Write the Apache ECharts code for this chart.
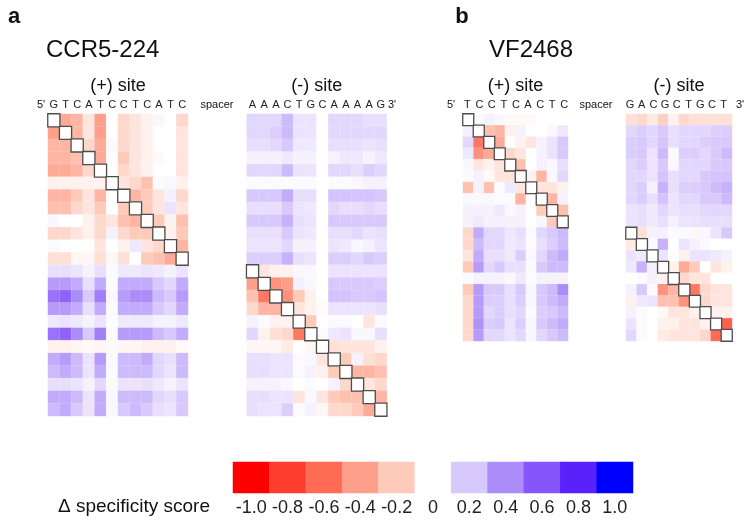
<!DOCTYPE html>
<html>
<head>
<meta charset="utf-8">
<script src="https://cdn.jsdelivr.net/npm/echarts@6/dist/echarts.min.js"></script>
<style>html,body{margin:0;padding:0;background:#fff}#c{width:752px;height:523px}</style>
</head>
<body>
<div id="c"></div>
<script>
// ---------- DATA ----------
const ccr5PlusBases = ['G','T','C','A','T','C','C','T','C','A','T','C'];
const ccr5MinusBases = ['A','A','A','C','T','G','C','A','A','A','A','G'];
const vfPlusBases = ['T','C','C','T','C','A','C','T','C'];
const vfMinusBases = ['G','A','C','G','C','T','G','C','T'];
// pairwise Δ specificity score, CCR5-224 (24 x 24), null = diagonal
const ccr5Matrix = [
 [null,-0.35,-0.3,-0.1,-0.4,0,-0.15,-0.1,-0.05,0.03,0,-0.15, 0.15,0.15,0.15,0.25,0.1,0.1,0,0.15,0.15,0.15,0.12,0.12],
 [-0.4,null,-0.3,-0.1,-0.4,0,-0.15,-0.1,-0.05,0,0,-0.1, 0.15,0.15,0.18,0.25,0.1,0.1,0,0.15,0.15,0.15,0.15,0.15],
 [-0.3,-0.3,null,-0.15,-0.35,-0.02,-0.15,-0.1,-0.05,0,0,-0.1, 0.12,0.12,0.15,0.2,0.08,0.08,0,0.12,0.12,0.12,0.1,0.12],
 [-0.3,-0.3,-0.25,null,-0.35,0,-0.2,-0.1,-0.05,-0.02,0,-0.1, 0.05,0.05,0.05,0.08,0.05,0.05,0,0.05,0.08,0.08,0.05,0.08],
 [-0.35,-0.35,-0.3,-0.15,null,0,-0.15,-0.1,-0.05,0,0,-0.1, 0.15,0.15,0.15,0.25,0.1,0.1,0,0.15,0.15,0.12,0.18,0.15],
 [-0.05,-0.05,-0.05,-0.05,-0.05,null,-0.1,-0.15,-0.25,0.02,0.03,-0.05, 0.02,0.02,0.02,0.02,0.02,0.02,0,0.02,0.02,0.03,0.05,0.05],
 [-0.3,-0.3,-0.2,-0.1,-0.3,0,null,-0.3,-0.2,-0.1,0.05,-0.15, 0.2,0.2,0.2,0.3,0.12,0.12,0,0.22,0.22,0.22,0.22,0.2],
 [-0.25,-0.25,-0.15,-0.1,-0.2,0,-0.2,null,-0.2,-0.1,0.1,-0.1, 0.12,0.12,0.12,0.2,0.1,0.08,0,0.15,0.12,0.12,0.15,0.12],
 [0.03,0,0,-0.05,-0.15,-0.1,-0.25,-0.3,null,-0.2,-0.05,-0.25, 0.2,0.2,0.2,0.28,0.12,0.1,0,0.2,0.2,0.2,0.2,0.2],
 [-0.15,-0.15,-0.1,-0.05,-0.15,0.05,-0.15,-0.2,-0.2,null,-0.05,-0.2, 0.12,0.12,0.12,0.2,0.1,0.08,0,0.12,0.12,0.15,0.1,0.12],
 [0.02,0,0,0,-0.1,0,-0.05,0.08,-0.1,-0.15,null,-0.3, 0.1,0.1,0.1,0.15,0.05,0.05,0,0.1,0.08,0.03,0.05,0.1],
 [-0.12,-0.12,-0.03,-0.03,-0.12,-0.03,-0.12,0,-0.2,-0.25,-0.35,null, 0.18,0.18,0.18,0.28,0.12,0.1,0,0.18,0.18,0.15,0.2,0.18],
 [0.12,0.12,0.1,0.05,0.12,0.02,0.08,0.08,0.1,0.08,0.05,0.1, null,-0.1,-0.05,-0.05,0.03,0.03,0,0.1,0.1,0.1,0.1,0.1],
 [0.35,0.35,0.3,0.12,0.3,0.02,0.3,0.3,0.3,0.2,0.15,0.3, -0.4,null,-0.45,-0.4,0.05,0.03,0,0.2,0.2,0.2,0.2,0.18],
 [0.5,0.55,0.4,0.2,0.45,0.03,0.35,0.4,0.4,0.25,0.2,0.35, -0.25,-0.55,null,-0.45,-0.2,-0.05,0,0.22,0.22,0.2,0.2,0.22],
 [0.35,0.35,0.3,0.12,0.3,0.02,0.3,0.3,0.3,0.2,0.15,0.3, -0.15,-0.3,-0.3,null,-0.1,-0.05,-0.02,0.1,0.1,0.1,0.1,0.12],
 [0.08,0.1,0.08,0.05,0.1,0.01,0.08,0.08,0.08,0.05,0.05,0.08, 0.05,0.02,-0.05,-0.05,null,-0.2,0,0.02,0.02,0,-0.1,0.02],
 [0.5,0.55,0.4,0.2,0.45,0.02,0.35,0.35,0.35,0.25,0.2,0.3, 0.15,-0.05,-0.12,-0.15,-0.55,null,0.02,0.08,0.1,0.03,0.03,0.12],
 [-0.05,-0.05,-0.03,-0.02,-0.03,-0.02,-0.03,-0.03,-0.05,-0.05,-0.05,-0.02, -0.03,-0.03,-0.03,-0.08,0,-0.03,null,-0.12,-0.1,-0.1,-0.1,-0.05],
 [0.3,0.35,0.25,0.1,0.35,0.02,0.25,0.25,0.3,0.15,0.12,0.25, 0.12,0.12,0.1,0.1,0.02,0.03,-0.1,null,-0.2,0.05,-0.12,-0.15],
 [0.25,0.3,0.25,0.1,0.3,0.02,0.25,0.25,0.25,0.15,0.1,0.25, 0.12,0.12,0.1,0.1,0.02,0.05,-0.05,-0.2,null,-0.3,-0.3,-0.25],
 [0.12,0.12,0.1,0.05,0.15,0.02,0.1,0.1,0.12,0.08,0.05,0.1, 0.05,0.05,0.05,0.03,0,0.02,0,0.05,-0.15,null,-0.1,-0.15],
 [0.3,0.3,0.25,0.1,0.3,0.03,0.25,0.25,0.25,0.15,0.12,0.2, 0.12,0.12,0.1,0.1,-0.1,0.03,-0.1,-0.2,-0.25,-0.25,null,-0.3],
 [0.25,0.3,0.2,0.1,0.3,0.03,0.2,0.25,0.2,0.12,0.1,0.2, 0.12,0.1,0.1,0.18,0.02,0.05,-0.03,-0.15,-0.15,-0.2,-0.35,null]
];
// pairwise Δ specificity score, VF2468 (20 x 20), null = diagonal
const vfMatrix = [
 [null,0.02,0.05,0.03,-0.02,-0.02,-0.02,0,0,0, -0.12,-0.15,-0.08,-0.18,-0.05,-0.15,-0.12,-0.12,-0.12,-0.12],
 [0.05,null,-0.25,-0.3,-0.05,0.05,0,0,0.03,0.08, 0.15,0.18,0.15,0.2,0.12,0.15,0.15,0.15,0.18,0.18],
 [0.15,-0.55,null,-0.35,0,-0.05,-0.1,0.05,0.1,0.2, 0.18,0.2,0.15,0.22,0.12,0.15,0.15,0.18,0.2,0.2],
 [0.08,-0.45,-0.35,null,-0.15,-0.1,0,0.05,0.1,0.2, 0.18,0.2,0.1,0.25,0.02,0.18,0.18,0.15,0.2,0.25],
 [0.03,-0.1,-0.05,-0.1,null,-0.25,0,0.05,0.03,0.12, 0.15,0.18,0.1,0.2,0.03,0.15,0.15,0.15,0.2,0.2],
 [0.02,0.05,-0.02,-0.1,-0.1,null,-0.05,-0.3,0.03,0.15, 0.15,0.15,0.1,0.22,0.12,0.15,0.15,0.2,0.22,0.22],
 [-0.25,0.05,-0.25,0.02,0.08,-0.1,null,-0.1,-0.1,-0.05, 0.15,0.18,0.05,0.28,0.12,0.18,0.18,0.2,0.25,0.28],
 [0.03,0.03,0.03,0.02,0.02,-0.3,0,null,-0.3,0.05, 0.15,0.18,0.12,0.22,0.1,0.15,0.15,0.2,0.2,0.25],
 [0.05,0.05,0.05,0.08,0.03,0.05,0,-0.2,null,-0.25, 0.1,0.12,0.08,0.15,0.1,0.12,0.12,0.15,0.15,0.15],
 [0.05,0.08,0.05,0.05,0.05,0.05,0,0.03,-0.2,null, 0.1,0.12,0.08,0.12,0.05,0.1,0.1,0.12,0.12,0.12],
 [-0.15,0.3,0.15,0.15,0.08,0.12,0.02,0.15,0.2,0.25, null,-0.12,0.05,0.05,0.02,0.02,-0.03,0.03,0.1,0.2],
 [-0.15,0.25,0.15,0.15,0.08,0.1,0.02,0.12,0.18,0.25, -0.08,null,0.02,0.28,0,0.1,0.05,0.02,0,0],
 [-0.1,0.3,0.12,0.12,0.08,0.18,0.03,0.15,0.25,0.3, 0.1,0.08,null,0.1,0,-0.05,0.1,0.1,0.08,0.05],
 [-0.2,0.35,0.15,0.2,0.12,0.12,0.02,0.2,0.25,0.25, 0.08,0.28,0.05,null,-0.05,-0.35,-0.2,0,-0.1,-0.05],
 [0.02,0.05,0.05,0.05,0.03,0.08,0.02,0.05,0.05,0.05, 0,0.02,0.05,-0.05,null,-0.15,-0.1,-0.1,0,0],
 [-0.2,0.35,0.2,0.2,0.12,0.2,0.03,0.2,0.25,0.4, 0.05,0.2,0.02,-0.45,-0.3,null,-0.55,-0.15,-0.1,-0.1],
 [-0.15,0.35,0.18,0.18,0.12,0.18,0.03,0.2,0.25,0.3, -0.05,0.08,0.1,-0.25,-0.25,-0.45,null,-0.15,-0.1,-0.1],
 [-0.15,0.35,0.15,0.18,0.12,0.15,0.02,0.18,0.2,0.25, 0.05,0.02,0,-0.02,-0.1,-0.1,-0.05,null,-0.05,-0.05],
 [-0.15,0.38,0.18,0.2,0.1,0.18,0.03,0.2,0.25,0.3, 0.1,0.02,0,-0.05,-0.05,-0.1,-0.1,-0.05,null,-0.65],
 [-0.15,0.35,0.15,0.15,0.1,0.15,0.03,0.15,0.2,0.25, 0.15,0.02,0,-0.08,-0.1,-0.1,-0.1,-0.15,-0.6,null]
];
const legendValues = [-1.0,-0.8,-0.6,-0.4,-0.2,0,0.2,0.4,0.6,0.8,1.0];
const legendLabels = ['-1.0','-0.8','-0.6','-0.4','-0.2','0','0.2','0.4','0.6','0.8','1.0'];
const scaleColors = ['#ff0000','#ff3d2f','#ff6b55','#fd9f8a','#fecbbb','#ffffff','#d8c9fc','#ab8cf8','#8655fb','#5a22fa','#0000ff'];

// ---------- BUILD ----------
const FONT = 'Liberation Sans, Arial, sans-serif';
function idxCats(n){ return Array.from({length:n},(_, i)=>String(i+1)); }
function cells(m, c0, c1){
  const out=[];
  m.forEach((row,r)=>{ for(let c=c0;c<c1;c++){ if(row[c]!==null) out.push([c-c0,r,row[c]]); } });
  return out;
}
function diag(c0, c1){
  const out=[];
  for(let r=c0;r<c1;r++) out.push([r-c0,r,0]);
  return out;
}
const grids = [
  {left:48, top:114, width:140, height:302},
  {left:246.7, top:114, width:140, height:302},
  {left:463, top:114, width:105, height:227},
  {left:626, top:114, width:106, height:227},
  {left:233, top:462, width:400, height:31},
  {left:461.4, top:114, width:109, height:10},
  {left:624.2, top:114, width:105.2, height:10}
];
const hiddenLine = {axisLine:{show:false}, axisTick:{show:false}, splitLine:{show:false}};
const letterLabel = {fontSize:11, color:'#222', margin:4, fontFamily:FONT, interval:0};
const xAxes = [
  Object.assign({type:'category', gridIndex:0, data:ccr5PlusBases, position:'top', axisLabel:letterLabel}, hiddenLine),
  Object.assign({type:'category', gridIndex:1, data:ccr5MinusBases, position:'top', axisLabel:letterLabel}, hiddenLine),
  {type:'category', gridIndex:2, data:idxCats(10), show:false},
  {type:'category', gridIndex:3, data:idxCats(10), show:false},
  Object.assign({type:'category', gridIndex:4, data:legendLabels, position:'bottom',
    axisLabel:{fontSize:18, color:'#222', margin:6, fontFamily:FONT, interval:0}}, hiddenLine),
  Object.assign({type:'category', gridIndex:5, data:vfPlusBases, position:'top', axisLabel:letterLabel}, hiddenLine),
  Object.assign({type:'category', gridIndex:6, data:vfMinusBases, position:'top', axisLabel:letterLabel}, hiddenLine)
];
const nRows=[24,24,20,20,1,1,1];
const yAxes = nRows.map((n,i)=>({type:'category', gridIndex:i, data:idxCats(n), inverse:true, show:false}));
const series=[];
const parts=[[ccr5Matrix,0,12],[ccr5Matrix,12,24],[vfMatrix,0,10],[vfMatrix,10,20]];
parts.forEach((p,i)=>{
  series.push({type:'heatmap', xAxisIndex:i, yAxisIndex:i, data:cells(p[0],p[1],p[2]), silent:true,
    itemStyle:{borderColor:'rgba(255,255,255,0.25)', borderWidth:0.5}});
});
series.push({type:'heatmap', xAxisIndex:4, yAxisIndex:4, data:legendValues.map((v,i)=>[i,0,v]), silent:true});
const dataSeriesIdx = series.map((s,i)=>i);
parts.forEach((p,i)=>{
  series.push({type:'heatmap', xAxisIndex:i, yAxisIndex:i, data:diag(p[1],p[2]), silent:true, z:5,
    itemStyle:{color:'#ffffff', borderColor:'#4d4d4d', borderWidth:1.3}});
});
function txt(x,y,s,size,extra){
  return {type:'text', x:x, y:y, silent:true,
    style:Object.assign({text:s, fontSize:size, fontFamily:FONT, fill:'#111', textAlign:'center', textVerticalAlign:'middle'}, extra||{})};
}
const g=[
  txt(14,17,'a',22,{fontWeight:'bold'}),
  txt(462,17,'b',22,{fontWeight:'bold'}),
  {type:'text', left:46, top:38, silent:true, style:{text:'CCR5-224', fontSize:24, fontFamily:FONT, fill:'#111'}},
  {type:'text', left:489, top:38, silent:true, style:{text:'VF2468', fontSize:24, fontFamily:FONT, fill:'#111'}},
  txt(118,86,'(+) site',18), txt(316.7,86,'(-) site',18),
  txt(515.5,86,'(+) site',18), txt(679,86,'(-) site',18),
  txt(41,104.5,"5'",11), txt(392,104.5,"3'",11), txt(217,104.5,'spacer',11),
  txt(451,104.5,"5'",11), txt(740,104.5,"3'",11), txt(596,104.5,'spacer',11),
  txt(210,507,'Δ specificity score',19,{textAlign:'right'})
];
const chart = echarts.init(document.getElementById('c'), null, {renderer:'canvas'});
chart.setOption({
  animation:false,
  grid:grids,
  xAxis:xAxes, yAxis:yAxes,
  visualMap:{type:'continuous', show:false, min:-1, max:1, seriesIndex:dataSeriesIdx, inRange:{color:scaleColors}},
  series:series,
  graphic:g
});
</script>
</body>
</html>
